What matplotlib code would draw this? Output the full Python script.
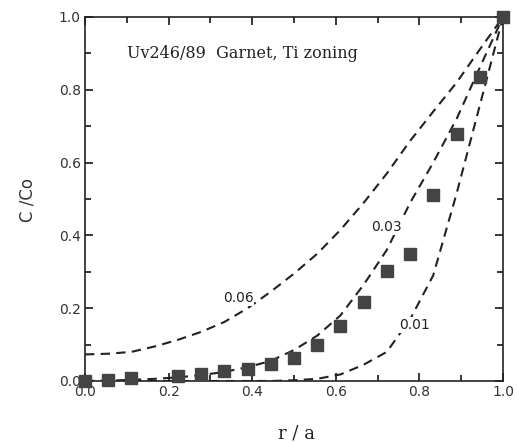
import matplotlib
matplotlib.use("Agg")
import matplotlib.pyplot as plt
from matplotlib.ticker import MultipleLocator

# measured garnet profile (squares)
r_meas = [0.0, 0.056, 0.111, 0.222, 0.278, 0.333, 0.389, 0.444, 0.5,
          0.556, 0.611, 0.667, 0.722, 0.778, 0.833, 0.889, 0.944, 1.0]
c_meas = [0.0, 0.004, 0.007, 0.014, 0.018, 0.027, 0.032, 0.048, 0.062,
          0.098, 0.152, 0.217, 0.302, 0.35, 0.511, 0.678, 0.834, 1.0]

# model curves, nodes every 1/18
r_model = [0.0, 0.056, 0.111, 0.167, 0.222, 0.278, 0.333, 0.389, 0.444, 0.5,
           0.556, 0.611, 0.667, 0.722, 0.778, 0.833, 0.889, 0.944, 1.0]
c_006 = [0.073, 0.075, 0.080, 0.095, 0.113, 0.135, 0.162, 0.200, 0.245, 0.295,
         0.35, 0.415, 0.49, 0.57, 0.66, 0.74, 0.82, 0.91, 1.0]
c_003 = [0.0, 0.001, 0.003, 0.006, 0.010, 0.016, 0.025, 0.038, 0.055, 0.085,
         0.125, 0.18, 0.265, 0.36, 0.49, 0.60, 0.72, 0.86, 1.0]
c_001 = [0.0, 0.0, 0.0, 0.0, 0.0, 0.0, 0.0, 0.0, 0.0, 0.002,
         0.006, 0.018, 0.045, 0.08, 0.17, 0.29, 0.515, 0.755, 1.0]

curve_labels = ["0.06", "0.03", "0.01"]
label_pos = [(0.367, 0.227), (0.722, 0.422), (0.789, 0.154)]

fig = plt.figure(figsize=(5.17, 4.42), dpi=100)
ax = fig.add_axes([85/517, 1 - 381/442, 418/517, 364/442])

dash = (0, (4.5, 3))
for c in (c_006, c_003, c_001):
    ax.plot(r_model, c, color='#222222', linestyle=dash, linewidth=1.5)

ax.plot(r_meas, c_meas, linestyle='none', marker='s', markersize=8.5,
        color='#444444', clip_on=False, zorder=5)

for lab, (x, y) in zip(curve_labels, label_pos):
    ax.text(x, y, lab, fontsize=10, color='#222222', ha='center', va='center',
            bbox=dict(facecolor='white', edgecolor='none', pad=0.5))

ax.text(0.10, 0.90, "Uv246/89  Garnet, Ti zoning", fontsize=11.5,
        family='DejaVu Serif', color='#222222', va='center')

ax.set_xlim(0, 1)
ax.set_ylim(0, 1)
ax.xaxis.set_major_locator(MultipleLocator(0.2))
ax.xaxis.set_minor_locator(MultipleLocator(0.1))
ax.yaxis.set_major_locator(MultipleLocator(0.2))
ax.yaxis.set_minor_locator(MultipleLocator(0.1))
ax.xaxis.set_major_formatter(plt.FormatStrFormatter('%.1f'))
ax.yaxis.set_major_formatter(plt.FormatStrFormatter('%.1f'))
ax.tick_params(which='both', direction='in', top=True, right=True,
               labelsize=10, labelcolor='#333333', width=1.1)
ax.tick_params(which='major', length=6, pad=3)
ax.tick_params(which='minor', length=4)
for s in ax.spines.values():
    s.set_linewidth(1.2)
    s.set_color('#222222')

fig.text(297/517, 1 - 433/442, "r / a", fontsize=13, family='DejaVu Serif',
         ha='center', va='center', color='#222222')
fig.text(27/517, 1 - 200/442, "C /Co", fontsize=12, rotation=90,
         ha='center', va='center', color='#333333')

fig.savefig("out.png", dpi=100)
